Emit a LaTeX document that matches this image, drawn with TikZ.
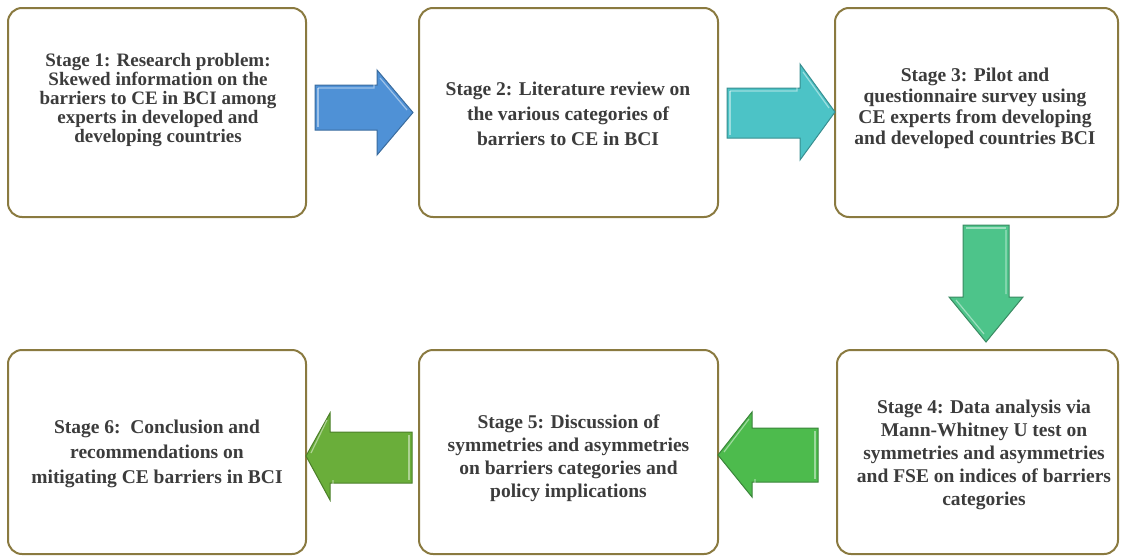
\documentclass[tikz,border=0pt]{standalone}
\usepackage{fontspec}
\setmainfont{Liberation Serif}
\definecolor{boxline}{HTML}{8A7A40}
\definecolor{txt}{HTML}{3C3C3C}
\definecolor{ablue}{HTML}{4F91D6}
\definecolor{ablueD}{HTML}{3A6C9E}
\definecolor{ateal}{HTML}{4CC3C6}
\definecolor{atealD}{HTML}{388E90}
\definecolor{amint}{HTML}{4DC48A}
\definecolor{amintD}{HTML}{3A8A62}
\definecolor{agreen}{HTML}{4DBB4D}
\definecolor{agreenD}{HTML}{3A843A}
\definecolor{aolive}{HTML}{6AAE3A}
\definecolor{aoliveD}{HTML}{4C7F2A}
\tikzset{
  stagebox/.style={draw=boxline, line width=2pt, rounded corners=14pt, fill=white, inner sep=0pt},
  stagetext/.style={text=txt, align=center, inner sep=0pt},
  arrowbody/.style={line width=1pt, line join=miter},
  hilite/.style={white, opacity=0.45, line width=1.2pt}
}
\begin{document}
\begin{tikzpicture}[x=1pt,y=-1pt]
\useasboundingbox (0,0) rectangle (1123,557);
% boxes
\node[stagebox, minimum width=298pt, minimum height=209pt] (s1) at (157,112.5) {};
\node[stagebox, minimum width=299pt, minimum height=209pt] (s2) at (568.5,112.5) {};
\node[stagebox, minimum width=283pt, minimum height=209pt] (s3) at (976.5,112.5) {};
\node[stagebox, minimum width=281pt, minimum height=204pt] (s4) at (977.5,452) {};
\node[stagebox, minimum width=299pt, minimum height=204pt] (s5) at (568.5,452) {};
\node[stagebox, minimum width=298pt, minimum height=204pt] (s6) at (157,452) {};
% texts
\node[stagetext, font=\bfseries\fontsize{19}{19}\selectfont] (t1) at (158,100) {Stage 1: Research problem:\\Skewed information on the\\barriers to CE in BCI among\\experts in developed and\\developing countries};
\node[stagetext, font=\bfseries\fontsize{19.5}{25}\selectfont] (t2) at (568,114) {Stage 2: Literature review on\\the various categories of\\barriers to CE in BCI};
\node[stagetext, font=\bfseries\fontsize{19.5}{21}\selectfont] (t3) at (975,108) {Stage 3: Pilot and\\questionnaire survey using\\CE experts from developing\\and developed countries BCI};
\node[stagetext, font=\bfseries\fontsize{19.5}{23}\selectfont] (t4) at (984,455) {Stage 4: Data analysis via\\Mann-Whitney U test on\\symmetries and asymmetries\\and FSE on indices of barriers\\categories};
\node[stagetext, font=\bfseries\fontsize{19.5}{23}\selectfont] (t5) at (568.5,458) {Stage 5: Discussion of\\symmetries and asymmetries\\on barriers categories and\\policy implications};
\node[stagetext, font=\bfseries\fontsize{19.5}{25}\selectfont] (t6) at (157,454) {Stage 6:\ \ Conclusion and\\recommendations on\\mitigating CE barriers in BCI};
% arrow 1 (s1 -> s2)
\draw[arrowbody, fill=ablue, draw=ablueD] (315,85) -- (377,85) -- (377,70) -- (413,112.5) -- (377,155) -- (377,130) -- (315,130) -- cycle;
\draw[hilite] (318,88) -- (374,88) -- (374,77) (380,78) -- (407,110);
\draw[hilite] (318,88) -- (318,127);
% arrow 2 (s2 -> s3)
\draw[arrowbody, fill=ateal, draw=atealD] (727,88) -- (800,88) -- (800,64) -- (835,112) -- (800,160) -- (800,138) -- (727,138) -- cycle;
\draw[hilite] (730,91) -- (797,91) -- (797,71) (803,72) -- (829,108);
\draw[hilite] (730,91) -- (730,135);
% arrow 3 (s3 -> s4)
\draw[arrowbody, fill=amint, draw=amintD] (963,225) -- (1009,225) -- (1009,297) -- (1023,297) -- (986,342) -- (949,297) -- (963,297) -- cycle;
\draw[hilite] (966,228) -- (1006,228);
\draw[hilite] (1006,230) -- (1006,294) (956,300) -- (984,334);
% arrow 4 (s4 -> s5)
\draw[arrowbody, fill=agreen, draw=agreenD] (818,428) -- (752,428) -- (752,412) -- (718,455) -- (752,497) -- (752,482) -- (818,482) -- cycle;
\draw[hilite] (815,431) -- (815,479);
\draw[hilite] (749,419) -- (724,452) (755,479) -- (755,490);
% arrow 5 (s5 -> s6)
\draw[arrowbody, fill=aolive, draw=aoliveD] (412,432) -- (330,432) -- (330,413) -- (306,456) -- (330,500) -- (330,483) -- (412,483) -- cycle;
\draw[hilite] (409,435) -- (409,480);
\draw[hilite] (327,420) -- (311,453) (333,480) -- (333,493);
\end{tikzpicture}
\end{document}
